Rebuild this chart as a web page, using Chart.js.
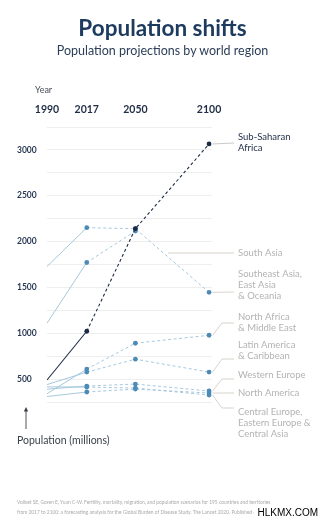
<!DOCTYPE html>
<html>
<head>
<meta charset="utf-8">
<script src="https://cdn.jsdelivr.net/npm/chart.js@4.4.1/dist/chart.umd.min.js"></script>
<style>
  html, body { margin: 0; padding: 0; background: #fff; }
  #wrap { position: relative; width: 325px; height: 521px; overflow: hidden; font-family: Lato, "Open Sans", sans-serif; }
  #chartBox { position: absolute; left: 0; top: 0; width: 325px; height: 521px; }
  .t { position: absolute; white-space: nowrap; }
  #title { left: 0; width: 325px; top: 15px; text-align: center; font-size: 22.5px; font-weight: 700; color: #1d3a5f; line-height: 26px; }
  #subtitle { left: 0; width: 325px; top: 43px; text-align: center; font-size: 12.5px; color: #2c3e58; line-height: 16px; }
  #yearLbl { left: 35px; top: 84px; font-size: 9px; color: #4a4f58; line-height: 12px; }
  #unitLbl { left: 17px; top: 433px; font-size: 10.5px; color: #3a3f48; line-height: 14px; }
  #arrow { position: absolute; left: 22px; top: 406px; }
  .foot { left: 17px; font-size: 4.9px; color: #a9a9a9; line-height: 6px; }
  #mark { right: 7px; top: 506px; font-family: "Liberation Sans", Arial, sans-serif; font-size: 10px; color: #000; background: #fff; padding: 0 0 0 3px; line-height: 13px; }
</style>
</head>
<body>
<div id="wrap">
  <div id="chartBox"><canvas id="chart"></canvas></div>
  <div class="t" id="title">Population shifts</div>
  <div class="t" id="subtitle">Population projections by world region</div>
  <div class="t" id="yearLbl">Year</div>
  <svg id="arrow" width="8" height="24" viewBox="0 0 8 24">
    <line x1="4" y1="3" x2="4" y2="23" stroke="#3a3f48" stroke-width="0.9"/>
    <path d="M1.8 5.5 L4 1 L6.2 5.5 Z" fill="#3a3f48"/>
  </svg>
  <div class="t" id="unitLbl">Population (millions)</div>
  <div class="t foot" style="top:499px">Vollset SE, Goren E, Yuan C-W. Fertility, mortality, migration, and population scenarios for 195 countries and territories</div>
  <div class="t foot" style="top:509px">from 2017 to 2100: a forecasting analysis for the Global Burden of Disease Study. The Lancet 2020. Published online July 14.</div>
  <div class="t" id="mark">HLKMX.COM</div>
</div>
<script>
// years shown on the top axis
const years = [1990, 2017, 2050, 2100];
const yTicks = [500, 1000, 1500, 2000, 2500, 3000];

// population in millions, one list per region (null = not drawn)
const subSaharanAfrica = [490, 1022, 2141, 3065];
const southAsia = [1109, 1772, 2115, null];
const seAsiaEastAsiaOceania = [1728, 2152, 2140, 1446];
const northAfricaMiddleEast = [340, 609, 891, 978];
const latinAmericaCaribbean = [440, 576, 717, 576];
const westernEurope = [390, 424, 446, 370];
const northAmerica = [310, 359, 391, 348];
const centralEurope = [415, 413, 402, 326];

const regions = [
	"Sub-Saharan Africa",
	"South Asia",
	"Southeast Asia, East Asia & Oceania",
	"North Africa & Middle East",
	"Latin America & Caribbean",
	"Western Europe",
	"North America",
	"Central Europe, Eastern Europe & Central Asia",
];
const series = [
	subSaharanAfrica,
	southAsia,
	seAsiaEastAsiaOceania,
	northAfricaMiddleEast,
	latinAmericaCaribbean,
	westernEurope,
	northAmerica,
	centralEurope,
];

const dark = "#1c2b45";
const lineBlue = "#a6c8dd";
const dotBlue = "#4d8bb6";
const greyText = "#b3b3b3";
const leaderCol = "#d8d3cb";

// where the right-hand labels sit (pixels), same order as regions
const labelStyle = [
	{ lines: ["Sub-Saharan", "Africa"], top: 137, leader: 143, color: dark },
	{ lines: ["South Asia"], top: 253, leader: 253, fromX: 168, color: greyText },
	{ lines: ["Southeast Asia,", "East Asia", "& Oceania"], top: 274, leader: 292, color: greyText },
	{ lines: ["North Africa", "& Middle East"], top: 317, leader: 323, color: greyText },
	{ lines: ["Latin America", "& Caribbean"], top: 345, leader: 359, color: greyText },
	{ lines: ["Western Europe"], top: 375, leader: 379, color: greyText },
	{ lines: ["North America"], top: 393, leader: 393, color: greyText },
	{ lines: ["Central Europe,", "Eastern Europe &", "Central Asia"], top: 412, leader: 408, color: greyText },
];

const regionLabels = {
	id: "regionLabels",
	afterDatasetsDraw(chart) {
		const { ctx } = chart;
		const xs = chart.scales.x;
		const ys = chart.scales.y;
		ctx.save();
		labelStyle.forEach((lab, i) => {
			const last = series[i][series[i].length - 1];
			let sx, sy;
			if (last === null) {
				sx = lab.fromX;
				sy = lab.leader;
			} else {
				sx = xs.getPixelForValue(years[years.length - 1]) + 3.5;
				sy = ys.getPixelForValue(last);
			}
			ctx.strokeStyle = i === 0 ? "#c9c9c9" : leaderCol;
			ctx.lineWidth = 1;
			ctx.beginPath();
			ctx.moveTo(sx, sy);
			if (Math.abs(sy - lab.leader) > 1) ctx.lineTo(222, lab.leader);
			ctx.lineTo(234, lab.leader);
			ctx.stroke();

			ctx.fillStyle = lab.color;
			ctx.font = "9.5px Lato";
			ctx.textBaseline = "middle";
			ctx.textAlign = "left";
			lab.lines.forEach((s, k) => ctx.fillText(s, 238, lab.top + k * 11));
		});
		ctx.restore();
	},
};

const datasets = series.map((vals, i) => {
	const isSSA = i === 0;
	return {
		label: regions[i],
		data: vals.map((v, k) => ({ x: years[k], y: v })),
		borderColor: isSSA ? dark : lineBlue,
		borderWidth: isSSA ? 1.1 : 1,
		pointRadius: vals.map((v, k) => (k === 0 ? 0 : 2.4)),
		pointBackgroundColor: isSSA ? dark : dotBlue,
		pointBorderWidth: 0,
		tension: 0,
		spanGaps: false,
		segment: {
			borderDash: (ctx) => (ctx.p0DataIndex >= 1 ? [3, 2.5] : undefined),
		},
	};
});

new Chart(document.getElementById("chart"), {
	type: "line",
	data: { datasets: datasets },
	options: {
		responsive: true,
		maintainAspectRatio: false,
		animation: false,
		layout: { padding: { left: 17, right: 113, top: 87, bottom: 119 } },
		plugins: { legend: { display: false }, tooltip: { enabled: false } },
		scales: {
			x: {
				type: "linear",
				position: "top",
				min: 1990,
				max: 2102,
				afterBuildTicks: (scale) => {
					scale.ticks = years.map((v) => ({ value: v }));
				},
				afterFit: (scale) => {
					scale.height = 40;
				},
				grid: { display: false },
				border: { display: false },
				ticks: {
					padding: 3,
					color: "#1f2d45",
					font: { family: "Lato", size: 10.5, weight: "bold" },
					callback: (v) => String(v),
				},
			},
			y: {
				min: 250,
				max: 3250,
				afterFit: (scale) => {
					scale.width = 30;
				},
				grid: { color: "#eeeeee", lineWidth: 1, drawTicks: false },
				border: { display: false },
				ticks: {
					stepSize: 250,
					crossAlign: "far",
					color: "#2a3a55",
					font: { family: "Lato", size: 8.5, weight: "bold" },
					callback: (v) => (yTicks.includes(v) ? String(v) : ""),
				},
			},
		},
	},
	plugins: [regionLabels],
});
</script>
</body>
</html>
